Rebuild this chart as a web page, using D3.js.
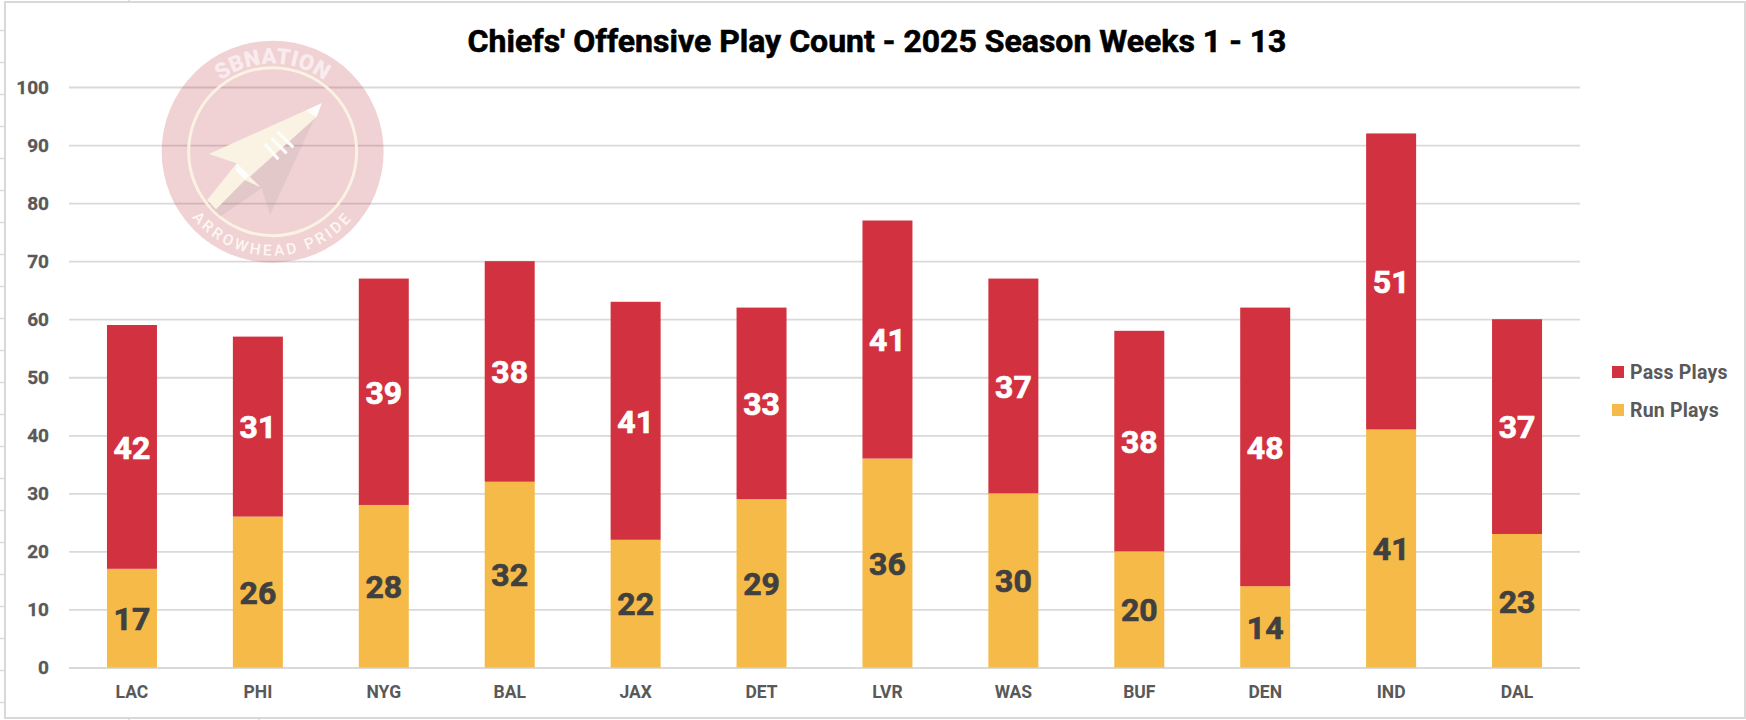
<!DOCTYPE html>
<html lang="en">
<head>
<meta charset="UTF-8">
<title>Chiefs' Offensive Play Count</title>
<script src="https://d3js.org/d3.v7.min.js"></script>
<style>
  html, body { margin: 0; background: #fff; }
  svg { display: block; }
  text { font-family: Roboto, "Liberation Sans", sans-serif; }
</style>
</head>
<body>
<svg id="chart" width="1746" height="720"></svg>
<script>
const opponents = ["LAC","PHI","NYG","BAL","JAX","DET","LVR","WAS","BUF","DEN","IND","DAL"];
const runPlays  = [17,26,28,32,22,29,36,30,20,14,41,23];
const passPlays = [42,31,39,38,41,33,41,37,38,48,51,37];
const yTicks = [0,10,20,30,40,50,60,70,80,90,100];
const seriesNames = ["Run Plays","Pass Plays"];
const titleText = "Chiefs' Offensive Play Count - 2025 Season Weeks 1 - 13";

const RED = "#d2323f", GOLD = "#f5ba47", GRID = "#d9d9d9", AXIS_TEXT = "#595959", LABEL_DARK = "#404040";

const svg = d3.select("#chart");
const rows = opponents.map((o, i) => ({ opp: o, "Run Plays": runPlays[i], "Pass Plays": passPlays[i] }));

const x = d3.scaleBand().domain(opponents).range([69, 1580]).paddingInner(0.603).paddingOuter(0.3015);
const y = d3.scaleLinear().domain([0, 100]).range([667.5, 87]);

// chart frame, plus the stubs of the sheet cells behind it
svg.append("rect").attr("x", 5).attr("y", 2).attr("width", 1740).attr("height", 716)
  .attr("fill", "#fff").attr("stroke", GRID).attr("stroke-width", 2);
const stubs = svg.append("g").attr("stroke", GRID).attr("stroke-width", 1.5);
d3.range(30, 720, 32).forEach(v => stubs.append("line").attr("x1", 0).attr("x2", 5).attr("y1", v + 0.5).attr("y2", v + 0.5));
[129, 259].forEach(v => {
  stubs.append("line").attr("x1", v).attr("x2", v).attr("y1", 717).attr("y2", 720);
});
stubs.append("line").attr("x1", 129).attr("x2", 129).attr("y1", 0).attr("y2", 2);

// y axis, only the gridlines and labels
const yAxis = svg.append("g").attr("transform", "translate(69,0)")
  .call(d3.axisLeft(y).tickValues(yTicks).tickSize(-1511).tickPadding(20));
yAxis.select(".domain").remove();
yAxis.selectAll("line").attr("stroke", GRID).attr("stroke-width", 1.8);
yAxis.selectAll("text").attr("fill", AXIS_TEXT).attr("font-size", 19).attr("font-weight", 700)
  .attr("stroke", AXIS_TEXT).attr("stroke-width", 0.3);

// logo watermark, sits over the gridlines
const logo = svg.append("g").attr("transform", "translate(130,20) scale(0.3333)");
logo.append("circle").attr("cx", 428).attr("cy", 395).attr("r", 333).attr("fill", "#bd2a36").attr("opacity", 0.21);
logo.append("circle").attr("cx", 428).attr("cy", 395).attr("r", 252).attr("fill", "none")
  .attr("stroke", "#faf3e3").attr("stroke-width", 9).attr("opacity", 0.95);
logo.append("path").attr("d", "M575,250 L420,585 L395,505 L270,590 L240,560 L400,420 Z").attr("fill", "#8a8a8a").attr("opacity", 0.13);
logo.append("path").attr("d", "M575,250 L237,402 L320,430 L232,540 L258,568 L345,480 L392,502 L360,470 L560,290 Z").attr("fill", "#faf3e3");
logo.append("path").attr("d", "M575,250 L527,272 L548,284 L560,290 Z M320,430 L318,452 L345,480 L357,465 Z").attr("fill", "#fdfdfd");
[[405,372,445,418],[425,355,470,400],[442,335,490,382]].forEach(p => {
  logo.append("line").attr("x1", p[0]).attr("y1", p[1]).attr("x2", p[2]).attr("y2", p[3])
    .attr("stroke", "#fdfdfd").attr("stroke-width", 9);
});
const defs = svg.append("defs");
defs.append("path").attr("id", "arcTop").attr("d", "M164,395 A264,264 0 0 1 692,395");
defs.append("path").attr("id", "arcBottom").attr("d", "M116,395 A312,312 0 0 0 740,395");
logo.append("text").attr("font-size", 66).attr("font-weight", 900).attr("fill", "#f9ecee").attr("letter-spacing", 1)
  .append("textPath").attr("href", "#arcTop").attr("startOffset", "50%").attr("text-anchor", "middle").text("SBNATION");
logo.append("text").attr("font-size", 46).attr("font-weight", 500).attr("fill", "#fdf7f0").attr("letter-spacing", 9)
  .append("textPath").attr("href", "#arcBottom").attr("startOffset", "50%").attr("text-anchor", "middle").text("ARROWHEAD PRIDE");

// stacked bars
const stacked = d3.stack().keys(seriesNames)(rows);
const color = d3.scaleOrdinal().domain(seriesNames).range([GOLD, RED]);
const layers = svg.append("g").selectAll("g").data(stacked).join("g").attr("fill", d => color(d.key));
layers.selectAll("rect").data(d => d).join("rect")
  .attr("x", d => x(d.data.opp))
  .attr("y", d => y(d[1]))
  .attr("width", x.bandwidth())
  .attr("height", d => y(d[0]) - y(d[1]));

// value labels
const labelLayers = svg.append("g").selectAll("g").data(stacked).join("g");
labelLayers.selectAll("text").data(d => d.map(v => Object.assign({ key: d.key }, { v }))).join("text")
  .attr("x", d => x(d.v.data.opp) + x.bandwidth() / 2)
  .attr("y", d => y((d.v[0] + d.v[1]) / 2))
  .attr("dy", "0.37em")
  .attr("text-anchor", "middle")
  .attr("font-size", 32)
  .attr("font-weight", 700)
  .attr("stroke", d => d.key === "Pass Plays" ? "#fff" : LABEL_DARK)
  .attr("stroke-width", 0.7)
  .attr("fill", d => d.key === "Pass Plays" ? "#fff" : LABEL_DARK)
  .text(d => d.v[1] - d.v[0]);

// category labels
const xAxis = svg.append("g").attr("transform", "translate(0,667.5)")
  .call(d3.axisBottom(x).tickSize(0).tickPadding(18));
xAxis.select(".domain").remove();
xAxis.selectAll("text").attr("fill", AXIS_TEXT).attr("font-size", 17.5).attr("font-weight", 700);

// title
svg.append("text").attr("x", 877).attr("y", 52).attr("text-anchor", "middle")
  .attr("font-size", 32).attr("font-weight", 700).attr("fill", "#000")
  .attr("stroke", "#000").attr("stroke-width", 0.6).text(titleText);

// legend
const legendRows = [{ name: "Pass Plays", col: RED, cy: 372 }, { name: "Run Plays", col: GOLD, cy: 410 }];
const legend = svg.append("g").selectAll("g").data(legendRows).join("g");
legend.append("rect").attr("x", 1612).attr("y", d => d.cy - 6).attr("width", 12).attr("height", 12).attr("fill", d => d.col);
legend.append("text").attr("x", 1630).attr("y", d => d.cy).attr("dy", "0.36em")
  .attr("fill", AXIS_TEXT).attr("font-size", 19.5).attr("font-weight", 700).attr("letter-spacing", 0.2).text(d => d.name);
</script>
</body>
</html>
